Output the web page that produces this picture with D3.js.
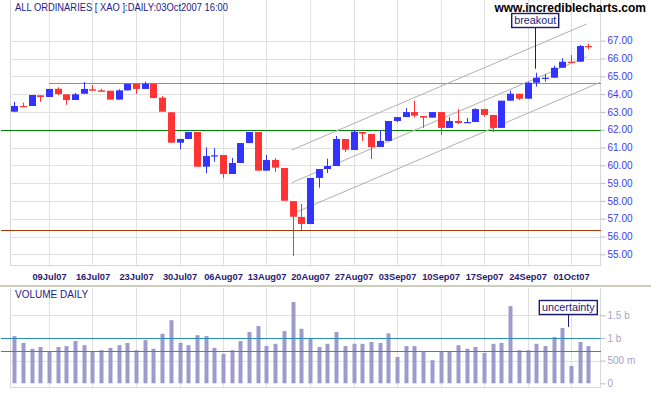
<!DOCTYPE html>
<html>
<head>
<meta charset="utf-8">
<script src="https://cdn.jsdelivr.net/npm/d3@7"></script>
<style>
    body { margin: 0; background: #fff; }
    svg { display: block; font-family: "Liberation Sans", Arial, sans-serif; }
    .grid line { stroke: #e0e0e0; shape-rendering: crispEdges; }
    .frame { stroke: #d8d8d8; fill: none; shape-rendering: crispEdges; }
    .level { shape-rendering: crispEdges; }
</style>
</head>
<body>
<svg id="chart" width="651" height="395"></svg>
<script>
// Trading days, 03 Jul 2007 - 03 Oct 2007
const dates = ("03Jul07 04Jul07 05Jul07 06Jul07 09Jul07 10Jul07 11Jul07 12Jul07 13Jul07 " +
    "16Jul07 17Jul07 18Jul07 19Jul07 20Jul07 23Jul07 24Jul07 25Jul07 26Jul07 27Jul07 " +
    "30Jul07 31Jul07 01Aug07 02Aug07 03Aug07 06Aug07 07Aug07 08Aug07 09Aug07 10Aug07 " +
    "13Aug07 14Aug07 15Aug07 16Aug07 17Aug07 20Aug07 21Aug07 22Aug07 23Aug07 24Aug07 " +
    "27Aug07 28Aug07 29Aug07 30Aug07 31Aug07 03Sep07 04Sep07 05Sep07 06Sep07 07Sep07 " +
    "10Sep07 11Sep07 12Sep07 13Sep07 14Sep07 17Sep07 18Sep07 19Sep07 20Sep07 21Sep07 " +
    "24Sep07 25Sep07 26Sep07 27Sep07 28Sep07 01Oct07 02Oct07 03Oct07").split(" ");

const weekTicks = ["09Jul07", "16Jul07", "23Jul07", "30Jul07", "06Aug07", "13Aug07", "20Aug07",
    "27Aug07", "03Sep07", "10Sep07", "17Sep07", "24Sep07", "01Oct07"];

const open = [63.01, 63.33, 63.33, 63.93, 63.84, 64.30, 63.99, 63.67, 64.02, 64.27, 64.21, 64.19, 63.69,
    64.21, 64.58, 64.29, 64.58, 63.80, 62.98, 61.27, 61.48, 61.87, 59.92, 60.54, 60.58, 59.51, 60.13,
    61.25, 61.87, 59.70, 60.30, 59.85, 57.99, 57.10, 56.70, 59.29, 59.79, 59.96, 61.48, 60.86, 61.87,
    61.76, 61.03, 61.37, 62.49, 62.71, 62.99, 62.77, 62.68, 62.99, 62.10, 62.49, 62.39, 62.43, 63.16,
    62.83, 62.10, 63.63, 64.02, 63.74, 64.64, 64.89, 64.92, 65.48, 65.82, 65.82, 66.70];
const high = [63.57, 63.52, 63.95, 63.93, 64.29, 64.38, 63.99, 64.06, 64.68, 64.51, 64.30, 64.19, 64.27,
    64.58, 64.58, 64.70, 64.58, 63.89, 62.98, 61.48, 61.87, 61.87, 61.01, 60.96, 60.58, 60.41, 61.25,
    61.87, 61.87, 60.58, 60.41, 59.85, 57.99, 57.83, 59.29, 59.79, 60.37, 61.65, 61.48, 61.98, 61.87,
    61.76, 61.98, 62.49, 62.71, 63.22, 63.63, 62.77, 62.99, 62.99, 62.71, 63.16, 62.66, 63.20, 63.16,
    62.83, 63.63, 64.19, 64.02, 64.68, 65.20, 65.13, 65.60, 66.01, 66.20, 66.76, 66.83];
const low = [63.01, 63.28, 63.33, 63.57, 63.84, 63.95, 63.40, 63.67, 64.02, 64.19, 64.13, 63.69, 63.69,
    64.21, 64.00, 64.29, 63.76, 63.01, 61.27, 60.90, 61.48, 59.92, 59.55, 60.20, 59.27, 59.51, 60.13,
    61.25, 59.70, 59.70, 59.62, 58.01, 54.90, 56.37, 56.70, 58.74, 59.57, 59.96, 60.75, 60.86, 61.37,
    60.35, 61.03, 61.37, 62.43, 62.71, 62.70, 62.10, 62.68, 61.70, 62.10, 62.32, 62.37, 62.43, 62.73,
    61.87, 62.10, 63.63, 63.67, 63.74, 64.42, 64.70, 64.92, 65.48, 65.76, 65.82, 66.53];
const close = [63.33, 63.28, 63.95, 63.84, 64.29, 64.00, 63.67, 63.99, 64.29, 64.19, 64.13, 63.69, 64.21,
    64.58, 64.29, 64.58, 63.78, 63.01, 61.27, 61.48, 61.87, 59.92, 60.52, 60.56, 59.51, 60.13, 61.25,
    61.87, 59.70, 60.30, 59.87, 58.01, 57.11, 56.70, 59.29, 59.79, 59.96, 61.48, 60.88, 61.89, 61.78,
    61.03, 61.37, 62.49, 62.71, 62.99, 62.79, 62.68, 62.99, 62.10, 62.49, 62.38, 62.43, 63.16, 62.83,
    62.10, 63.63, 64.02, 63.74, 64.64, 64.92, 64.92, 65.48, 65.82, 65.76, 66.70, 66.66];

// volume in billions
const volume = [1.04, 0.89, 0.76, 0.80, 0.71, 0.80, 0.82, 0.93, 0.84, 0.71, 0.73, 0.78, 0.84, 0.89,
    0.73, 0.95, 0.76, 1.09, 1.39, 0.89, 0.84, 1.06, 1.04, 0.78, 0.65, 0.73, 0.93, 1.13, 1.26, 0.82,
    0.87, 1.15, 1.79, 1.20, 0.98, 0.80, 0.87, 1.13, 0.82, 0.87, 0.87, 0.91, 0.89, 1.10, 0.58, 0.82,
    0.82, 0.69, 0.51, 0.69, 0.71, 0.84, 0.76, 0.80, 0.67, 0.87, 0.89, 1.70, 0.73, 0.73, 0.87, 0.82,
    1.02, 1.22, 0.38, 0.91, 0.82];

const priceTicks = d3.range(55, 68);
const volumeTicks = [0, 0.5, 1, 1.5];
const volumeTickLabels = ["0", "500 m", "1 b", "1.5 b"];
const volumeLevels = [1.0, 0.72];

// horizontal levels: price, start day index, colour
const levels = [
    { price: 64.61, from: 4, color: "#22dd22" },
    { price: 62.00, from: -1.5, color: "#008000" },
    { price: 56.37, from: -1.5, color: "#a83a06" }
];
// trend channel: from (day, price) to (day, price)
const channel = [
    { i0: 31.9, p0: 60.86, i1: 65.8, p1: 67.94 },
    { i0: 31.9, p0: 59.02, i1: 65.8, p1: 66.10 },
    { i0: 32.1, p0: 57.30, i1: 67.33, p1: 64.66 }
];

const svg = d3.select("#chart");
const plot = { left: 10.5, right: 600.5, top: 0, bottom: 265.5 };
const vplot = { top: 288, bottom: 387.5 };

const x = d3.scaleLinear().domain([0, dates.length - 1]).range([14.2, 588.4]);
const y = d3.scaleLinear().domain([55, 67]).range([254.3, 40.7]);
const v = d3.scaleLinear().domain([0, 1.5]).range([383.3, 315.2]);
const mondays = weekTicks.map(t => dates.indexOf(t));
const crisp = val => Math.round(val) + 0.5;

// ---- price panel ----
const grid = svg.append("g").attr("class", "grid");
grid.selectAll(".hp").data(priceTicks).enter().append("line")
    .attr("x1", plot.left).attr("x2", plot.right)
    .attr("y1", d => crisp(y(d))).attr("y2", d => crisp(y(d)));
grid.selectAll(".vp").data(mondays).enter().append("line")
    .attr("x1", d => crisp(x(d))).attr("x2", d => crisp(x(d)))
    .attr("y1", plot.top).attr("y2", plot.bottom);
svg.append("path").attr("class", "frame")
    .attr("d", `M${plot.left},${plot.top}V${plot.bottom}H${plot.right}V${plot.top}`);

svg.append("g").selectAll("line").data(levels).enter().append("line")
    .attr("class", "level")
    .attr("x1", d => x(d.from)).attr("x2", plot.right)
    .attr("y1", d => crisp(y(d.price))).attr("y2", d => crisp(y(d.price)))
    .attr("stroke", d => d.color).attr("stroke-width", 1);

svg.append("g").selectAll("line").data(channel).enter().append("line")
    .attr("x1", d => x(d.i0)).attr("y1", d => y(d.p0))
    .attr("x2", d => x(d.i1)).attr("y2", d => y(d.p1))
    .attr("stroke", "#b0b0b0").attr("stroke-width", 1);

// candles
const candles = svg.append("g").selectAll("g").data(dates).enter().append("g")
    .attr("fill", (d, i) => close[i] >= open[i] ? "#3333ff" : "#ff3333")
    .attr("stroke", (d, i) => close[i] >= open[i] ? "#3333ff" : "#ff3333");
candles.append("line")
    .attr("x1", (d, i) => crisp(x(i))).attr("x2", (d, i) => crisp(x(i)))
    .attr("y1", (d, i) => y(high[i])).attr("y2", (d, i) => y(low[i]));
candles.append("rect")
    .attr("stroke", "none")
    .attr("x", (d, i) => Math.round(x(i)) - 3)
    .attr("width", 7)
    .attr("y", (d, i) => y(Math.max(open[i], close[i])))
    .attr("height", (d, i) => Math.max(1.2, Math.abs(y(open[i]) - y(close[i]))));

// price axis
const yAxis = svg.append("g").attr("transform", `translate(${plot.right},0)`)
    .call(d3.axisRight(y).tickValues(priceTicks).tickFormat(d3.format(".2f")).tickSize(5).tickPadding(2));
yAxis.select(".domain").remove();
yAxis.selectAll("line").attr("stroke", "#b8b8d8");
yAxis.selectAll("text").attr("fill", "#3b3bf0").style("font-size", "10px");

// date axis
const xAxis = svg.append("g").attr("transform", "translate(0,270)")
    .call(d3.axisBottom(x).tickValues(mondays).tickFormat(i => dates[i]).tickSize(0).tickPadding(3));
xAxis.select(".domain").remove();
xAxis.selectAll("text").attr("fill", "#2a1a6e").style("font-size", "9.3px").style("font-weight", "bold");

// panel separator
svg.append("rect").attr("x", 0).attr("y", 285).attr("width", 651).attr("height", 2).attr("fill", "#d2cebd");

// ---- volume panel ----
const vgrid = svg.append("g").attr("class", "grid");
vgrid.selectAll(".hv").data([0.5, 1.5]).enter().append("line")
    .attr("x1", plot.left).attr("x2", plot.right)
    .attr("y1", d => crisp(v(d))).attr("y2", d => crisp(v(d)));
vgrid.selectAll(".vv").data(mondays).enter().append("line")
    .attr("x1", d => crisp(x(d))).attr("x2", d => crisp(x(d)))
    .attr("y1", vplot.top).attr("y2", vplot.bottom);
svg.append("path").attr("class", "frame")
    .attr("d", `M${plot.left},${vplot.top}V${vplot.bottom}H${plot.right}V${vplot.top}`);

svg.append("g").selectAll("rect").data(volume).enter().append("rect")
    .attr("x", (d, i) => Math.round(x(i)) - 1.5)
    .attr("width", 4)
    .attr("y", d => v(d))
    .attr("height", d => v(0) - v(d))
    .attr("fill", "#9c9ccc");

svg.append("g").selectAll("line").data(volumeLevels).enter().append("line")
    .attr("class", "level")
    .attr("x1", 1).attr("x2", plot.right)
    .attr("y1", d => crisp(v(d))).attr("y2", d => crisp(v(d)))
    .attr("stroke", "#2b8db3").attr("stroke-width", 1);

const vAxis = svg.append("g").attr("transform", `translate(${plot.right},0)`)
    .call(d3.axisRight(v).tickValues(volumeTicks).tickFormat((d, i) => volumeTickLabels[i]).tickSize(5).tickPadding(2));
vAxis.select(".domain").remove();
vAxis.selectAll("line").attr("stroke", "#b8b8d0");
vAxis.selectAll("text").attr("fill", "#a4a4c4").style("font-size", "10px");

// ---- titles ----
svg.append("text").attr("x", 15).attr("y", 10.7)
    .attr("textLength", 213).attr("lengthAdjust", "spacingAndGlyphs")
    .attr("fill", "#1c1c8a").style("font-size", "10px")
    .text("ALL ORDINARIES [ XAO ]:DAILY:03Oct2007 16:00");
svg.append("text").attr("x", 15).attr("y", 297.5)
    .attr("fill", "#1c1c8a").style("font-size", "10px")
    .text("VOLUME DAILY");
svg.append("text").attr("x", 646).attr("y", 11.5).attr("text-anchor", "end")
    .attr("fill", "#000").style("font-size", "12px").style("font-weight", "bold")
    .text("www.incrediblecharts.com");

// ---- annotations ----
function note(text, cx, top, w, lineEnd) {
    const g = svg.append("g");
    g.append("line").attr("x1", crisp(cx)).attr("x2", crisp(cx))
        .attr("y1", top + 14).attr("y2", lineEnd).attr("stroke", "#1c1c6e");
    g.append("rect").attr("x", cx - w / 2).attr("y", top).attr("width", w).attr("height", 14)
        .attr("fill", "#fff").attr("stroke", "#1c1c6e").attr("stroke-width", 1.4);
    g.append("text").attr("x", cx).attr("y", top + 10.8).attr("text-anchor", "middle")
        .attr("fill", "#1c1c7a").style("font-size", "10.8px").text(text);
}
note("breakout", x(60) - 1, 13.5, 47, y(high[60]) - 4);
note("uncertainty", x(63) + 6, 300.5, 58, v(volume[63]) - 1);
</script>
</body>
</html>
